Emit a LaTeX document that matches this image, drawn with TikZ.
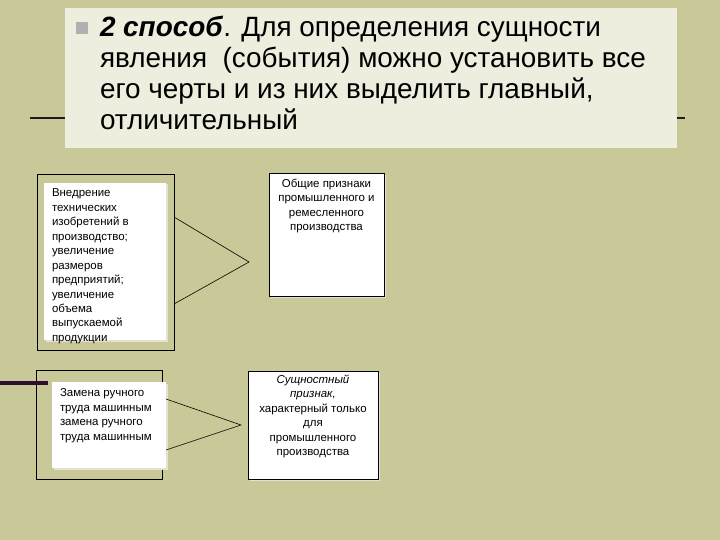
\documentclass[tikz,border=0pt]{standalone}
\usepackage{fontspec}
\setmainfont{Liberation Sans}
\usetikzlibrary{positioning,calc,shadows}
\definecolor{olive-bg}{RGB}{201,200,152}
\definecolor{title-bg}{RGB}{238,238,222}
\definecolor{dark-plum}{RGB}{45,15,45}
\definecolor{rule-dark}{RGB}{30,25,35}
\definecolor{bullet-gray}{RGB}{176,176,176}
\definecolor{shade-light}{RGB}{226,226,208}

\begin{document}
\begin{tikzpicture}[
            x=1bp, y=-1bp,
            every node/.style={inner sep=0pt, outer sep=0pt},
            small/.style={font=\fontsize{11.5}{14.5}\selectfont},
            outerbox/.style={draw=black, line width=0.8bp, fill=olive-bg, anchor=north west},
            innerbox/.style={fill=white, anchor=north west, drop shadow={shadow xshift=1.5bp, shadow yshift=-1.5bp, fill=shade-light, opacity=1}},
            sidebox/.style={draw=black, line width=0.8bp, fill=white, anchor=north west, drop shadow={shadow xshift=2bp, shadow yshift=-2bp, fill=shade-light, opacity=1}},
            link/.style={line width=0.6bp, black},
        ]
            \useasboundingbox (0,0) rectangle (720,540);
            \fill[olive-bg] (0,0) rectangle (720,540);

            % rule behind the title
            \coordinate (rule-left) at (30,118);
            \coordinate (rule-right) at (685,118);
            \draw[rule-dark, line width=2bp] (rule-left) -- (rule-right);

            % title
            \node[fill=title-bg, anchor=north west, minimum width=612bp, minimum height=140bp] (title) at (65,8) {};
            \node[fill=bullet-gray, minimum size=12bp] (bullet) at (81.5,28) {};
            \node[anchor=north west, align=left, font=\fontsize{28}{31}\selectfont] (title-text) at (100,16)
                {\textbf{\textit{2 способ}}. Для определения сущности\\
                 явления\ \ (события) можно установить все\\
                 его черты и из них выделить главный,\\
                 отличительный};

            % left column
            \node[outerbox, minimum width=137bp, minimum height=176bp] (outer1) at (37,174) {};
            \node[innerbox, minimum width=122bp, minimum height=157bp] (inner1) at (44,183) {};
            \node[small, align=left, below right=6bp and 8bp of inner1.north west] (features1)
                {Внедрение\\ технических\\ изобретений в\\ производство;\\ увеличение\\ размеров\\
                 предприятий;\\ увеличение\\ объема\\ выпускаемой\\ продукции};

            \node[outerbox, minimum width=126bp, minimum height=109bp] (outer2) at (36,370) {};
            \node[innerbox, minimum width=114bp, minimum height=86bp] (inner2) at (52,382) {};
            \node[small, align=left, below right=7bp and 8bp of inner2.north west] (features2)
                {Замена ручного\\ труда машинным\\ замена ручного\\ труда машинным};

            \coordinate (plum-start) at (0,383);
            \coordinate (plum-end) at (48,383);
            \draw[dark-plum, line width=4bp] (plum-start) -- (plum-end);

            % right column
            \node[sidebox, minimum width=115bp, minimum height=123bp] (common) at (269,173) {};
            \node[small, align=center, below=6bp of common.north] (common-text)
                {Общие признаки\\ промышленного и\\ ремесленного\\ производства};

            \node[sidebox, minimum width=130bp, minimum height=108bp] (essence) at (248,371) {};
            \node[small, align=center, below=4bp of essence.north] (essence-text)
                {\textit{Сущностный}\\ \textit{признак,}\\ характерный только\\ для\\ промышленного\\ производства};

            % brackets
            \coordinate (tip1) at ([xshift=75bp]outer1.east);
            \draw[link] ([yshift=45bp]outer1.east) -- (tip1) -- ([yshift=-42bp]outer1.east);
            \coordinate (tip2) at ([xshift=75bp]inner2.east);
            \draw[link] ([yshift=26bp]inner2.east) -- (tip2) -- ([yshift=-25bp]inner2.east);
        \end{tikzpicture}
\end{document}
